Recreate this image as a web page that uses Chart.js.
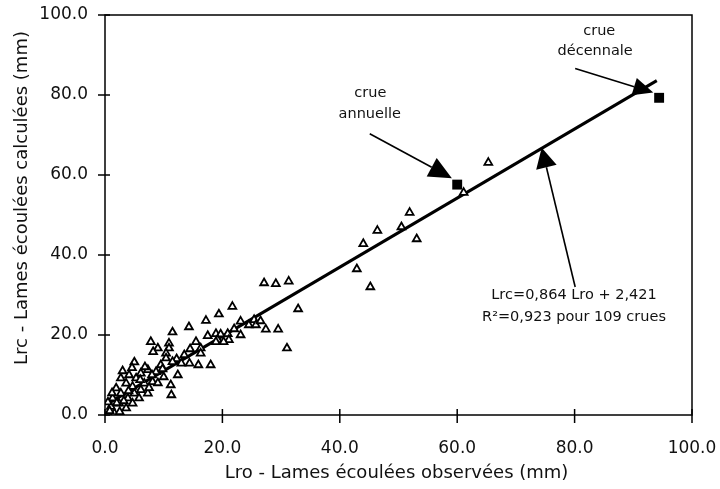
<!DOCTYPE html>
<html>
<head>
<meta charset="utf-8">
<script src="https://cdn.jsdelivr.net/npm/chart.js@4.4.0/dist/chart.umd.min.js"></script>
<style>
    html, body { margin: 0; padding: 0; background: #fff; }
    #wrap { width: 720px; height: 489px; }
</style>
</head>
<body>
<div id="wrap"><canvas id="chart"></canvas></div>
<script>
// Lro observées / Lrc calculées (mm)
const lroObs = [65.3, 61.1, 51.9, 50.5, 46.4, 53.1, 44.0, 42.9, 45.2, 27.1,
    29.1, 31.3, 21.7, 32.9, 19.4, 17.2, 23.1, 25.4, 24.5, 25.7,
    27.4, 29.5, 14.3, 11.5, 18.9, 19.7, 20.9, 23.1, 19.2, 21.1,
    18.9, 20.2, 15.5, 10.9, 7.8, 31.0, 16.3, 9.0, 10.9, 8.2,
    10.4, 16.3, 10.4, 12.2, 5.0, 11.5, 13.0, 14.4, 15.9, 18.0,
    9.5, 7.3, 8.7, 6.1, 4.1, 12.4, 5.3, 2.7, 3.6, 6.7,
    8.1, 11.2, 4.7, 1.9, 6.1, 2.7, 5.0, 7.3, 11.3, 1.3,
    3.9, 5.8, 2.4, 4.7, 1.0, 3.6, 1.6, 0.8, 2.5, 8.0,
    9.8, 6.8, 4.6, 3.0, 6.0, 7.5, 3.2, 2.0, 0.5, 1.2,
    4.0, 9.0, 10.0, 13.5, 14.5, 17.5, 22.0, 26.5];
const lrcCalc = [63.1, 55.6, 50.6, 47.0, 46.1, 44.0, 42.8, 36.5, 32.0, 33.0,
    32.8, 33.4, 27.1, 26.5, 25.2, 23.6, 23.4, 23.8, 22.5, 22.5,
    21.4, 21.4, 22.0, 20.7, 20.3, 20.2, 20.3, 20.0, 18.8, 18.8,
    18.3, 18.3, 18.3, 17.9, 18.3, 16.7, 16.7, 16.7, 16.7, 15.8,
    15.4, 15.4, 14.2, 14.0, 13.2, 13.3, 12.9, 12.9, 12.5, 12.5,
    12.5, 11.3, 10.8, 10.4, 10.0, 10.0, 9.2, 9.2, 7.9, 7.9,
    8.3, 7.5, 7.1, 6.7, 6.3, 5.4, 5.4, 5.4, 5.0, 4.2,
    4.2, 4.2, 2.9, 2.9, 2.1, 1.7, 0.4, 1.0, 0.8, 10.0,
    11.5, 12.0, 11.8, 11.0, 8.8, 6.8, 3.5, 3.0, 3.2, 5.5,
    6.0, 8.0, 9.5, 15.0, 16.5, 19.8, 21.5, 23.5];

// crue annuelle, crue décennale
const crueLro = [60.0, 94.4];
const crueLrc = [57.6, 79.3];

// droite Lrc=0,864 Lro + 2,421
const fitLro = [0.5, 94.0];
const fitLrc = [2.85, 83.6];

const tickValues = [0, 20, 40, 60, 80, 100];

const FONT = "'DejaVu Sans', sans-serif";

// flèches et textes, en unités des axes
const arrows = [
    { from: [45.1, 70.3], to: [59.1, 59.2], len: 23, width: 21 },
    { from: [80.1, 32.0], to: [74.4, 66.8], len: 20, width: 21 },
    { from: [80.1, 86.6], to: [93.4, 80.6], len: 20, width: 18 }
];
const notes = [
    { text: 'crue', x: 45.2, y: 80.5, size: 14.5 },
    { text: 'annuelle', x: 45.1, y: 75.3, size: 14.5 },
    { text: 'crue', x: 84.2, y: 95.9, size: 14.5 },
    { text: 'décennale', x: 83.5, y: 90.9, size: 14.5 },
    { text: 'Lrc=0,864 Lro + 2,421', x: 79.9, y: 29.9, size: 14.5 },
    { text: 'R²=0,923 pour 109 crues', x: 79.9, y: 24.5, size: 14.5 }
];

const decor = {
    id: 'decor',
    afterDraw(chart) {
        const { ctx, chartArea: a } = chart;
        const sx = chart.scales.x, sy = chart.scales.y;
        ctx.save();
        ctx.strokeStyle = '#000';
        ctx.lineWidth = 1.5;
        ctx.strokeRect(a.left, a.top, a.right - a.left, a.bottom - a.top);

        ctx.beginPath();
        tickValues.forEach(v => {
            const px = sx.getPixelForValue(v);
            ctx.moveTo(px, a.bottom - 6);
            ctx.lineTo(px, a.bottom + 8);
            const py = sy.getPixelForValue(v);
            ctx.moveTo(a.left - 7, py);
            ctx.lineTo(a.left + 5, py);
        });
        ctx.stroke();

        // flèches
        arrows.forEach(ar => {
            const x0 = sx.getPixelForValue(ar.from[0]), y0 = sy.getPixelForValue(ar.from[1]);
            const x1 = sx.getPixelForValue(ar.to[0]), y1 = sy.getPixelForValue(ar.to[1]);
            const d = Math.hypot(x1 - x0, y1 - y0);
            const ux = (x1 - x0) / d, uy = (y1 - y0) / d;
            const bx = x1 - ux * ar.len, by = y1 - uy * ar.len;
            ctx.lineWidth = 1.6;
            ctx.beginPath();
            ctx.moveTo(x0, y0);
            ctx.lineTo(bx, by);
            ctx.stroke();
            ctx.fillStyle = '#000';
            ctx.beginPath();
            ctx.moveTo(x1, y1);
            ctx.lineTo(bx - uy * ar.width / 2, by + ux * ar.width / 2);
            ctx.lineTo(bx + uy * ar.width / 2, by - ux * ar.width / 2);
            ctx.closePath();
            ctx.fill();
        });

        // textes
        ctx.fillStyle = '#111';
        ctx.textAlign = 'center';
        ctx.textBaseline = 'middle';
        notes.forEach(n => {
            ctx.font = n.size + 'px ' + FONT;
            ctx.fillText(n.text, sx.getPixelForValue(n.x), sy.getPixelForValue(n.y));
        });

        // titres des axes
        ctx.font = '18px ' + FONT;
        ctx.textBaseline = 'alphabetic';
        ctx.fillText('Lro - Lames écoulées observées (mm)', (a.left + a.right) / 2 - 2, 478);
        ctx.save();
        ctx.translate(27, 198);
        ctx.rotate(-Math.PI / 2);
        ctx.fillText('Lrc - Lames écoulées calculées (mm)', 0, 0);
        ctx.restore();
        ctx.restore();
    }
};

Chart.defaults.font.family = FONT;
Chart.defaults.color = '#111';

new Chart(document.getElementById('chart'), {
    type: 'scatter',
    data: {
        datasets: [
            {
                data: lroObs.map((v, i) => ({ x: v, y: lrcCalc[i] })),
                pointStyle: 'triangle',
                radius: 4.5,
                borderWidth: 1.8,
                borderColor: '#000',
                backgroundColor: '#fff'
            },
            {
                data: fitLro.map((v, i) => ({ x: v, y: fitLrc[i] })),
                showLine: true,
                borderColor: '#000',
                borderWidth: 3,
                pointRadius: 0
            },
            {
                data: crueLro.map((v, i) => ({ x: v, y: crueLrc[i] })),
                pointStyle: 'rect',
                radius: 7,
                borderWidth: 0,
                backgroundColor: '#000'
            }
        ]
    },
    options: {
        responsive: true,
        maintainAspectRatio: false,
        animation: false,
        layout: { padding: { top: 15, right: 28, left: 0, bottom: 0 } },
        plugins: {
            legend: { display: false },
            tooltip: { enabled: false }
        },
        scales: {
            x: {
                min: 0,
                max: 100,
                afterFit: s => {
                    s.height = 74;
                    s.paddingLeft = 0;
                    s.paddingRight = 0;
                },
                grid: { display: false, drawTicks: false },
                border: { display: false },
                ticks: {
                    stepSize: 20,
                    padding: 23,
                    font: { size: 17 },
                    callback: v => v.toFixed(1)
                }
            },
            y: {
                min: 0,
                max: 100,
                afterFit: s => {
                    s.width = 105;
                    s.paddingTop = 0;
                    s.paddingBottom = 0;
                },
                grid: { display: false, drawTicks: false },
                border: { display: false },
                ticks: {
                    stepSize: 20,
                    padding: 17,
                    font: { size: 17 },
                    callback: v => v.toFixed(1)
                }
            }
        }
    },
    plugins: [decor]
});
</script>
</body>
</html>
